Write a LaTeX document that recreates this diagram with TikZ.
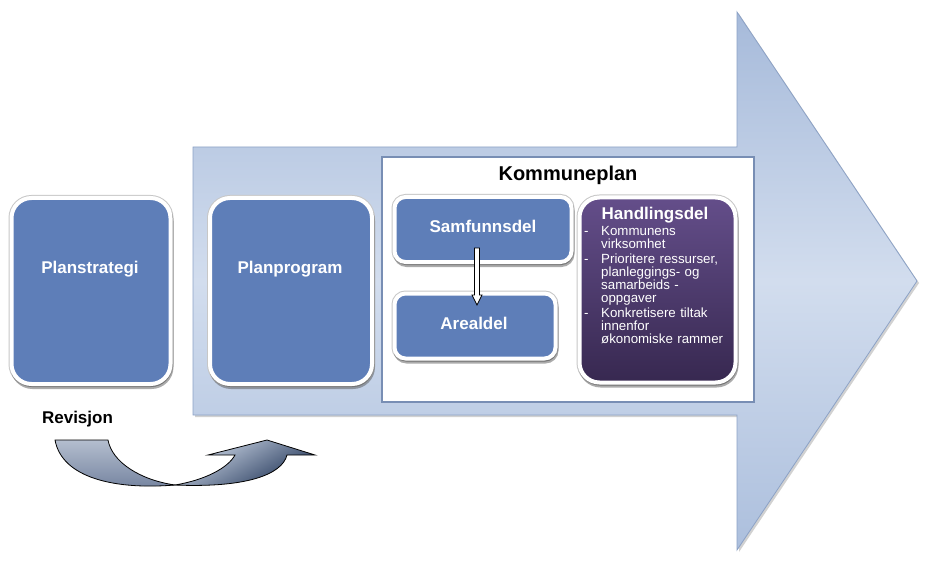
\documentclass[tikz,border=0pt]{standalone}
\usepackage{fontspec}
\setmainfont{Liberation Sans}
\usetikzlibrary{shadows,calc}
\definecolor{boxblue}{RGB}{94,126,184}
\definecolor{arrtop}{RGB}{166,186,218}
\definecolor{arrmid}{RGB}{210,221,238}
\definecolor{arrbot}{RGB}{172,191,221}
\definecolor{arredge}{RGB}{140,162,198}
\definecolor{kpedge}{RGB}{120,142,180}
\definecolor{purtop}{RGB}{100,78,138}
\definecolor{purbot}{RGB}{55,40,80}
\definecolor{navy}{RGB}{30,50,85}
\definecolor{revlight}{RGB}{210,220,235}
\definecolor{lobetop}{RGB}{180,190,207}
\definecolor{lobebot}{RGB}{115,130,158}
\newcommand{\hlitem}[1]{\hangindent=17pt\hangafter=1\noindent\makebox[17pt][l]{-}#1\par}
\begin{document}
\begin{tikzpicture}[x=1pt,y=-1pt,
  boxbase/.style={draw=white, inner sep=0pt,
     preaction={draw=black!22, line width=6pt},
     drop shadow={shadow xshift=1pt, shadow yshift=-3pt, opacity=0.5, fill=black!65, draw=black!65, line width=4pt}},
  bluebox/.style={boxbase, fill=boxblue, line width=4pt},
  purbox/.style={boxbase, top color=purtop, bottom color=purbot, line width=4pt, rounded corners=20pt},
  boxtext/.style={anchor=base, text=white, font=\fontsize{17}{20}\selectfont\bfseries},
  bigarrow/.style={draw=arredge, line width=0.8pt, top color=arrtop, bottom color=arrbot, middle color=arrmid},
  arrshadow/.style={fill=black, opacity=0.18},
  kpbox/.style={draw=kpedge, line width=1.2pt, fill=white, inner sep=0pt},
  revline/.style={draw=black, line width=0.8pt}
]
\useasboundingbox (0,0) rectangle (933,569);

% big arrow
\path[arrshadow, xshift=2pt, yshift=-2pt] (193,147) -- (737,147) -- (737,12) -- (917,281) -- (737,550) -- (737,415) -- (193,415) -- cycle;
\path[bigarrow] (193,147) -- (737,147) -- (737,12) -- (917,281) -- (737,550) -- (737,415) -- (193,415) -- cycle;

% Kommuneplan frame
\node[kpbox, minimum width=372pt, minimum height=245pt] (kp) at (568,279.5) {};
\node[anchor=base, font=\fontsize{20}{24}\selectfont\bfseries] (kpt) at (568,181) {Kommuneplan};

% left boxes
\node[bluebox, rounded corners=20pt, minimum width=159pt, minimum height=186pt] (ps) at (91,291) {};
\node[boxtext] (pst) at (90,273) {Planstrategi};
\node[bluebox, rounded corners=20pt, minimum width=162pt, minimum height=186pt] (pp) at (291,291) {};
\node[boxtext] (ppt) at (290,273) {Planprogram};

% inner boxes
\node[bluebox, rounded corners=11pt, minimum width=177pt, minimum height=65pt] (sam) at (483,229.5) {};
\node[boxtext] (samt) at (483,233) {Samfunnsdel};
\node[bluebox, rounded corners=11pt, minimum width=161pt, minimum height=65pt] (are) at (475,326) {};
\node[boxtext] (aret) at (474,329) {Arealdel};

% block arrow Samfunnsdel -> Arealdel
\draw[fill=white, line width=0.8pt] (474.5,248) -- (479.5,248) -- (479.5,295) -- (482,295) -- (477,305) -- (472,295) -- (474.5,295) -- cycle;

% Handlingsdel
\node[purbox, minimum width=156pt, minimum height=185pt] (hd) at (657.5,290) {};
\node[boxtext] (hdt) at (655,219) {Handlingsdel};
\node[anchor=north west, inner sep=0pt, text width=152pt, align=left, text=white,
      font=\fontsize{13.3}{13}\selectfont] (hl) at (584,226) {%
\hlitem{Kommunens\newline virksomhet}%
\vspace{2.2pt}%
\hlitem{Prioritere ressurser,\newline planleggings- og\newline samarbeids -\newline oppgaver}%
\vspace{2.2pt}%
\hlitem{Konkretisere tiltak\newline innenfor\newline økonomiske rammer}};

% Revisjon
\node[anchor=base, font=\fontsize{17}{20}\selectfont\bfseries] (rev) at (77.5,423) {Revisjon};
\path[revline, top color=lobetop, bottom color=lobebot]
  (55,440) -- (108,440) .. controls (112,462) and (140,480) .. (175,485)
  .. controls (115,490) and (62,478) .. (55,440) -- cycle;
\path[revline, shading=axis, top color=revlight, bottom color=navy, shading angle=30]
  (175,485) .. controls (205,480) and (228,468) .. (235,455) -- (208,455) -- (267,440)
  -- (315,455) -- (287,455) .. controls (282,475) and (245,488) .. (175,485) -- cycle;
\end{tikzpicture}
\end{document}
